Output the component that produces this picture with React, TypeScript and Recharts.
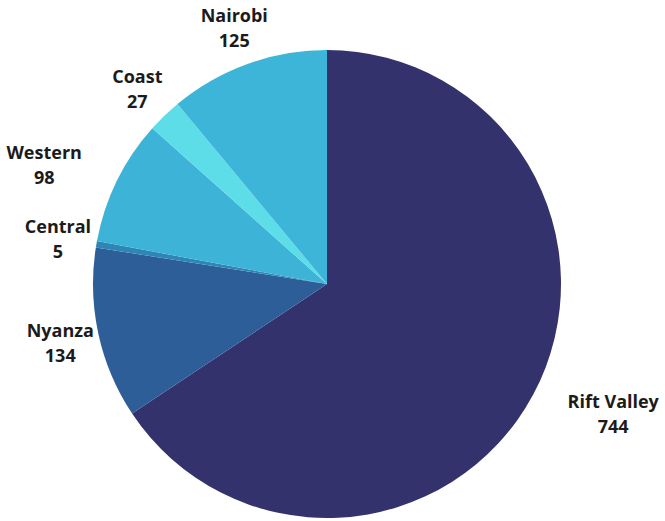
import { PieChart, Pie, Cell } from "recharts";

const regions = ["Rift Valley", "Nyanza", "Central", "Western", "Coast", "Nairobi"];
const counts = [744, 134, 5, 98, 27, 125];
const colors = ["#33326c", "#2d5e98", "#2e86b6", "#3db4d7", "#5ddde8", "#3db5d8"];

const data = regions.map((name, i) => ({ name, value: counts[i] }));

const RADIAN = Math.PI / 180;
const LABEL_FONT = "700 18px 'Open Sans'";

let ctx: CanvasRenderingContext2D | null = null;
function textWidth(s: string) {
  if (!ctx) ctx = document.createElement("canvas").getContext("2d");
  if (!ctx) return s.length * 9;
  ctx.font = LABEL_FONT;
  return ctx.measureText(s).width;
}

// labels sit outside the slice, centred unless they would run into the pie
function alignFor(name: string) {
  if (name === "Rift Valley") return 1;
  if (name === "Western") return -1;
  return 0;
}

function renderLabel(props: any) {
  const { cx, cy, midAngle, outerRadius, name, value } = props;
  const r = outerRadius + 39;
  const x = cx + r * Math.cos(-midAngle * RADIAN);
  const y = cy + r * Math.sin(-midAngle * RADIAN);
  const center = x + (alignFor(name) * textWidth(name)) / 2;
  return (
    <text
      x={center}
      y={y}
      textAnchor="middle"
      dominantBaseline="central"
      fill="#1b1b1b"
      fontFamily="'Open Sans', sans-serif"
      fontWeight={700}
      fontSize={18}
    >
      <tspan x={center} y={y - 12}>
        {name}
      </tspan>
      <tspan x={center} y={y + 13}>
        {value}
      </tspan>
    </text>
  );
}

export default function App() {
  return (
    <div style={{ position: "absolute", left: 0, top: 0, background: "#fff" }}>
      <PieChart width={665} height={521} margin={{ top: 0, right: 0, bottom: 0, left: 0 }}>
        <Pie
          data={data}
          dataKey="value"
          nameKey="name"
          cx={327}
          cy={284}
          outerRadius={234}
          startAngle={90}
          endAngle={-270}
          stroke="none"
          label={renderLabel}
          labelLine={false}
          isAnimationActive={false}
        >
          {data.map((d, i) => (
            <Cell key={d.name} fill={colors[i]} />
          ))}
        </Pie>
      </PieChart>
    </div>
  );
}
